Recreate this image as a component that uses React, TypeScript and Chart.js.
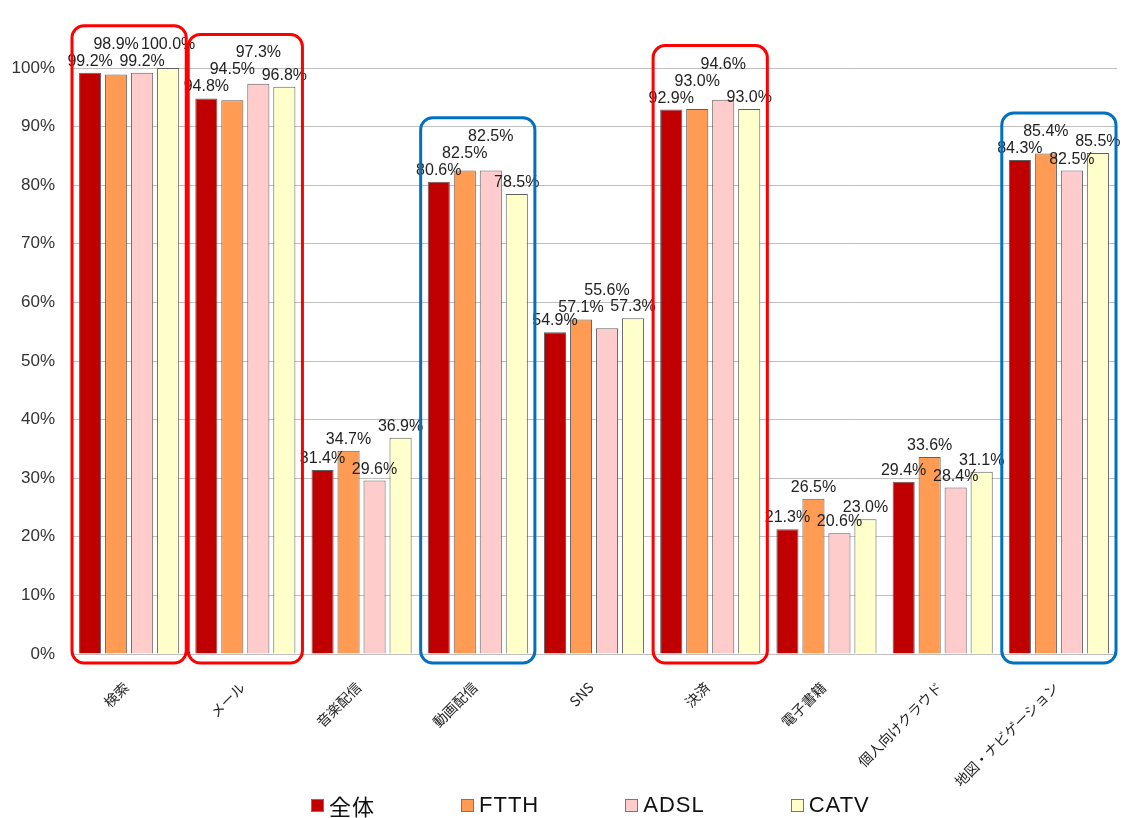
import React, { useEffect, useRef } from "react";
import { Chart, registerables } from "chart.js";

Chart.register(...registerables);

const categories = [
  "検索",
  "メール",
  "音楽配信",
  "動画配信",
  "SNS",
  "決済",
  "電子書籍",
  "個人向けクラウド",
  "地図・ナビゲーション",
];
const seriesNames = ["全体", "FTTH", "ADSL", "CATV"];
const zentai = [99.2, 94.8, 31.4, 80.6, 54.9, 92.9, 21.3, 29.4, 84.3];
const ftth = [98.9, 94.5, 34.7, 82.5, 57.1, 93.0, 26.5, 33.6, 85.4];
const adsl = [99.2, 97.3, 29.6, 82.5, 55.6, 94.6, 20.6, 28.4, 82.5];
const catv = [100.0, 96.8, 36.9, 78.5, 57.3, 93.0, 23.0, 31.1, 85.5];
const yTickValues = [0, 10, 20, 30, 40, 50, 60, 70, 80, 90, 100];
const redHighlight = [0, 1, 5];
const blueHighlight = [3, 8];

const seriesColors = ["#C00000", "#FF9B52", "#FFCCCC", "#FFFFCC"];
const LATIN = '"Liberation Sans", Arial, "Noto Sans CJK JP", sans-serif';
const CJK = '"Noto Sans CJK JP", "Liberation Sans", sans-serif';

type Rect = { l: number; r: number; t: number; b: number };

const overlayPlugin = {
  id: "overlayPlugin",
  afterDatasetsDraw(chart: any) {
    const ctx = chart.ctx;
    const nSeries = chart.data.datasets.length;
    const nCat = chart.data.labels.length;
    const placed: Rect[] = [];
    const catTop: number[] = new Array(nCat).fill(Infinity);
    const fontPx = 16;
    ctx.save();
    ctx.font = `${fontPx}px ${LATIN}`;
    ctx.fillStyle = "#222222";
    ctx.textAlign = "center";
    ctx.textBaseline = "alphabetic";
    for (let j = 0; j < nCat; j++) {
      for (let i = 0; i < nSeries; i++) {
        const el = chart.getDatasetMeta(i).data[j];
        const v = chart.data.datasets[i].data[j];
        const txt = `${Number(v).toFixed(1)}%`;
        const w = ctx.measureText(txt).width;
        const h = 13;
        let b = el.y - 7;
        let moved = true;
        let guard = 0;
        while (moved && guard < 20) {
          moved = false;
          guard++;
          for (const p of placed) {
            const hOver = Math.min(el.x + w / 2, p.r) - Math.max(el.x - w / 2, p.l);
            const vOver = Math.min(b, p.b) - Math.max(b - h, p.t);
            if (hOver > 5 && vOver > 1) {
              b = p.t - 4;
              moved = true;
            }
          }
        }
        const rect = { l: el.x - w / 2, r: el.x + w / 2, t: b - h, b };
        placed.push(rect);
        catTop[j] = Math.min(catTop[j], rect.t);
        ctx.fillText(txt, el.x, b);
      }
    }
    const xs = chart.scales.x;
    const ys = chart.scales.y;
    const half = (xs.getPixelForValue(1) - xs.getPixelForValue(0)) / 2;
    const drawBox = (j: number, color: string) => {
      const cx = xs.getPixelForValue(j);
      const l = cx - half + 1;
      const r = cx + half - 1;
      const t = catTop[j] - 10;
      const b = ys.getPixelForValue(0) + 9;
      ctx.beginPath();
      ctx.lineWidth = 3;
      ctx.strokeStyle = color;
      ctx.roundRect(l, t, r - l, b - t, 12);
      ctx.stroke();
    };
    redHighlight.forEach((j) => drawBox(j, "#FF0000"));
    blueHighlight.forEach((j) => drawBox(j, "#0070C0"));
    ctx.restore();
  },
};

export default function App() {
  const ref = useRef<HTMLCanvasElement | null>(null);
  useEffect(() => {
    if (!ref.current) return;
    const seriesData = [zentai, ftth, adsl, catv];
    const chart = new Chart(ref.current, {
      type: "bar",
      data: {
        labels: categories,
        datasets: seriesNames.map((name, i) => ({
          label: name,
          data: seriesData[i],
          backgroundColor: seriesColors[i],
          borderColor: "#5f5f5f",
          borderWidth: 1,
          categoryPercentage: 0.895,
          barPercentage: 0.85,
        })),
      },
      options: {
        animation: false,
        responsive: true,
        maintainAspectRatio: false,
        layout: { padding: { top: 68, right: 9, left: 0, bottom: 0 } },
        plugins: {
          legend: { display: false },
          tooltip: { enabled: false },
        },
        scales: {
          x: {
            grid: { display: false },
            border: { display: false },
            ticks: {
              maxRotation: 45,
              minRotation: 45,
              autoSkip: false,
              padding: 17,
              labelOffset: -3,
              color: "#222222",
              font: { family: CJK, size: 14 },
            },
            afterFit: (scale: any) => {
              scale.height = 164;
            },
          },
          y: {
            min: 0,
            max: 100,
            afterBuildTicks: (scale: any) => {
              scale.ticks = yTickValues.map((v) => ({ value: v }));
            },
            grid: { color: "#BFBFBF", lineWidth: 1, drawTicks: false },
            border: { display: false },
            ticks: {
              padding: 16,
              color: "#333333",
              font: { family: LATIN, size: 17 },
              callback: (v: any) => `${v}%`,
            },
            afterFit: (scale: any) => {
              scale.width = 71;
            },
          },
        },
      },
      plugins: [overlayPlugin],
    });
    return () => chart.destroy();
  }, []);

  return (
    <div style={{ position: "absolute", left: 0, top: 0, width: 1126, height: 818, background: "#ffffff" }}>
      <canvas ref={ref} style={{ width: "100%", height: "100%" }} />
      <div
        style={{
          position: "absolute",
          left: 311,
          top: 792,
          display: "flex",
          alignItems: "center",
          gap: 86,
          fontFamily: LATIN,
          fontSize: 22,
          letterSpacing: 1,
          color: "#111111",
          lineHeight: "26px",
        }}
      >
        {seriesNames.map((name, i) => (
          <div key={name} style={{ display: "flex", alignItems: "center" }}>
            <span
              style={{
                display: "inline-block",
                width: 11,
                height: 11,
                background: seriesColors[i],
                border: "1px solid #777777",
                marginRight: 5,
              }}
            />
            <span style={{ fontFamily: name === "全体" ? CJK : LATIN }}>{name}</span>
          </div>
        ))}
      </div>
    </div>
  );
}
